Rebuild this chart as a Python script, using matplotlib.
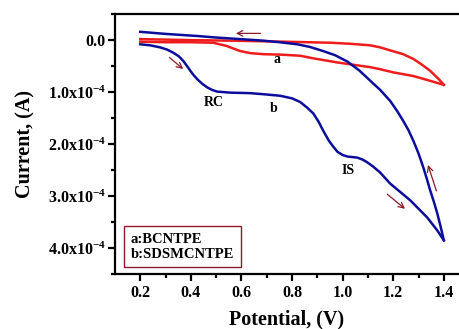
import numpy as np
import matplotlib
matplotlib.use('Agg')
import matplotlib.pyplot as plt

plt.rcParams['font.family'] = ['Liberation Serif', 'DejaVu Serif']
plt.rcParams['font.weight'] = 'bold'
plt.rcParams['mathtext.fontset'] = 'custom'
plt.rcParams['mathtext.rm'] = 'Liberation Serif:bold'
plt.rcParams['mathtext.it'] = 'Liberation Serif:bold'
plt.rcParams['mathtext.bf'] = 'Liberation Serif:bold'

SCALE = 1e-4

# curve b (SDSMCNTPE) - forward and reverse scan, current in 1e-4 A
b_fwd_v = [0.2, 0.24, 0.279, 0.305, 0.330, 0.352, 0.370, 0.385, 0.398, 0.412, 0.425,
           0.445, 0.465, 0.485, 0.504, 0.556, 0.635, 0.686, 0.753, 0.80, 0.832, 0.86,
           0.884, 0.905, 0.923, 0.945, 0.963, 0.98, 1.0, 1.02, 1.058, 1.08, 1.097,
           1.12, 1.149, 1.188, 1.267, 1.334, 1.374, 1.40]
b_fwd_i = [0.08, 0.10, 0.14, 0.18, 0.24, 0.31, 0.40, 0.50, 0.59, 0.68, 0.75,
           0.84, 0.91, 0.96, 0.99, 1.01, 1.02, 1.04, 1.07, 1.12, 1.19, 1.30,
           1.41, 1.57, 1.74, 1.93, 2.05, 2.15, 2.21, 2.24, 2.26, 2.30, 2.35,
           2.43, 2.55, 2.76, 3.08, 3.41, 3.66, 3.85]
b_rev_v = [1.40, 1.387, 1.374, 1.36, 1.346, 1.333, 1.319, 1.30, 1.279, 1.26, 1.239,
           1.215, 1.188, 1.149, 1.109, 1.065, 1.018, 0.97, 0.923, 0.87, 0.821, 0.75,
           0.686, 0.595, 0.50, 0.425, 0.30, 0.2]
b_rev_i = [3.85, 3.58, 3.33, 3.10, 2.89, 2.67, 2.45, 2.18, 1.93, 1.73, 1.55,
           1.36, 1.17, 0.96, 0.78, 0.58, 0.41, 0.29, 0.21, 0.13, 0.08, 0.04,
           0.01, -0.02, -0.05, -0.08, -0.12, -0.16]

# curve a (BCNTPE)
a_fwd_v = [0.2, 0.30, 0.40, 0.489, 0.54, 0.595, 0.635, 0.686, 0.76, 0.832, 0.884, 0.98,
           1.109, 1.149, 1.20, 1.279, 1.33, 1.386, 1.40]
a_fwd_i = [0.03, 0.04, 0.04, 0.05, 0.11, 0.21, 0.25, 0.27, 0.28, 0.30, 0.35, 0.43,
           0.52, 0.56, 0.62, 0.69, 0.76, 0.84, 0.86]
a_rev_v = [1.40, 1.38, 1.346, 1.31, 1.279, 1.239, 1.19, 1.149, 1.109, 1.03, 0.951,
           0.77, 0.556, 0.40, 0.2]
a_rev_i = [0.86, 0.75, 0.59, 0.46, 0.36, 0.27, 0.20, 0.14, 0.10, 0.07, 0.05,
           0.03, 0.01, 0.0, -0.02]

xticks = [0.2, 0.4, 0.6, 0.8, 1.0, 1.2, 1.4]
yticks = [0.0, 1.0, 2.0, 3.0, 4.0]
ytick_labels = ['0.0', '1.0x10$^{-4}$', '2.0x10$^{-4}$', '3.0x10$^{-4}$', '4.0x10$^{-4}$']

# scan direction arrows: (tail v, tail i, head v, head i)
arrows = [(0.686, -0.13, 0.567, -0.13),
          (0.307, 0.30, 0.378, 0.59),
          (1.168, 2.93, 1.255, 3.28),
          (1.374, 2.95, 1.334, 2.35)]

peak_labels = [('a', 0.742, 0.38), ('b', 0.726, 1.32), ('RC', 0.489, 1.20), ('IS', 1.022, 2.51)]

blue = '#0d0d9c'
red = '#ee1c1c'
arrow_col = '#8b1a2a'

fig = plt.figure(figsize=(4.59, 3.29), dpi=100)
ax = fig.add_axes([0.2505, 0.167, 0.7495, 0.79])

ax.plot(a_fwd_v, np.array(a_fwd_i) * SCALE, color=red, lw=1.8, solid_joinstyle='round')
ax.plot(a_rev_v, np.array(a_rev_i) * SCALE, color=red, lw=1.8, solid_joinstyle='round')
ax.plot(b_fwd_v, np.array(b_fwd_i) * SCALE, color=blue, lw=1.8, solid_joinstyle='round')
ax.plot(b_rev_v, np.array(b_rev_i) * SCALE, color=blue, lw=1.8, solid_joinstyle='round')

for tv, ti, hv, hi in arrows:
    ax.annotate('', xy=(hv, hi * SCALE), xytext=(tv, ti * SCALE),
                arrowprops=dict(arrowstyle='->', color=arrow_col, lw=0.9))

for txt, v, i in peak_labels:
    ax.text(v, i * SCALE, txt, fontsize=10, fontweight='bold', ha='center', va='center')

ax.text(0.163, 3.97 * SCALE,
        'a:BCNTPE\nb:SDSMCNTPE', fontsize=10.5, fontweight='bold', ha='left', va='center',
        linespacing=1.2,
        bbox=dict(boxstyle='square,pad=0.45', fc='white', ec=arrow_col, lw=1.0))

ax.set_xlim(0.1, 1.46)
ax.set_ylim(4.5 * SCALE, -0.5 * SCALE)
ax.set_xticks(xticks)
ax.set_xticks(np.arange(0.3, 1.45, 0.2), minor=True)
ax.set_yticks(np.array(yticks) * SCALE)
ax.set_yticklabels(ytick_labels)
ax.set_yticks(np.arange(-0.5, 4.6, 1.0) * SCALE, minor=True)
ax.set_xticklabels(['%.1f' % t for t in xticks])

ax.spines['right'].set_visible(False)
for s in ['left', 'top', 'bottom']:
    ax.spines[s].set_linewidth(1.6)
ax.tick_params(which='major', direction='out', length=5, width=1.6, labelsize=11.5, pad=3)
ax.tick_params(axis='y', which='major', pad=1.5)
ax.tick_params(which='minor', direction='out', length=3, width=1.6)
for lab in ax.get_xticklabels() + ax.get_yticklabels():
    lab.set_fontweight('bold')

ax.set_xlabel('Potential, (V)', fontsize=14.5, fontweight='bold', labelpad=6)
ax.set_ylabel('Current, (A)', fontsize=14.5, fontweight='bold', labelpad=9)

fig.savefig('out.png', dpi=100)
